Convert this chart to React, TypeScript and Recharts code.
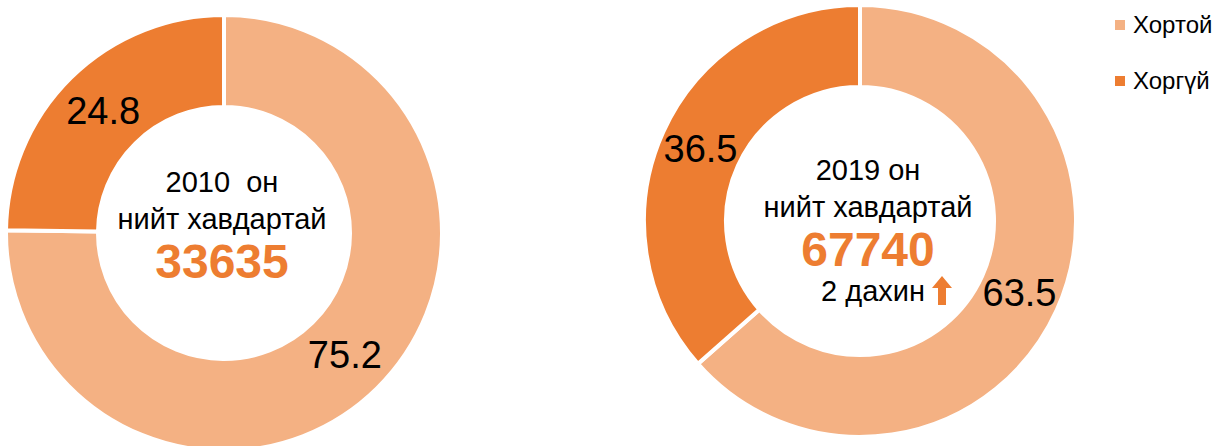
import React from 'react';
import { PieChart, Pie, Cell, Legend } from 'recharts';

const categories = ['Хортой', 'Хоргүй'];
const values2010 = [75.2, 24.8];
const values2019 = [63.5, 36.5];
const yearLabels = ['2010  он', '2019 он'];
const subtitle = 'нийт хавдартай';
const totals = [33635, 67740];
const growthText = '2 дахин';

const colors = ['#F4B183', '#ED7D31'];
const accent = '#ED7D31';
const font = '"Liberation Sans", Arial, sans-serif';

const data2010 = categories.map((name, i) => ({ name, value: values2010[i] }));
const data2019 = categories.map((name, i) => ({ name, value: values2019[i] }));

const RAD = Math.PI / 180;

const centerText = (idx: number, cx: number, cy: number, growth: boolean) => (
  <g fontFamily={font}>
    <text x={cx} y={cy - 41} textAnchor="middle" fontSize={29} fill="#000" style={{ whiteSpace: 'pre' }}>
      {yearLabels[idx]}
    </text>
    <text x={cx} y={cy - 4} textAnchor="middle" fontSize={29} fill="#000">{subtitle}</text>
    <text x={cx} y={cy + 45} textAnchor="middle" fontSize={48} fontWeight="bold" fill={accent}>{totals[idx]}</text>
    {growth && (
      <g>
        <text x={cx + 57} y={cy + 80} textAnchor="end" fontSize={29} fill="#000">{growthText}</text>
        <path
          d={`M ${cx + 74} ${cy + 55} l 10 12 l -6 0 l 0 17 l -8 0 l 0 -17 l -6 0 Z`}
          fill={accent}
        />
      </g>
    )}
  </g>
);

// value label in the middle of the ring along the slice's mid angle;
// the first slice also carries the donut's centre text
const makeLabel = (idx: number, dx: number, growth: boolean) => (p: any) => {
  const r = (p.innerRadius + p.outerRadius) / 2;
  const x = p.cx + r * Math.cos(-p.midAngle * RAD);
  const y = p.cy + r * Math.sin(-p.midAngle * RAD);
  return (
    <g key={`lbl-${idx}-${p.index}`}>
      <text x={x} y={y} textAnchor="middle" dominantBaseline="central" fontSize={38} fontFamily={font} fill="#000">
        {Number(p.value).toFixed(1)}
      </text>
      {p.index === 0 && centerText(idx, p.cx + dx, p.cy, growth)}
    </g>
  );
};

const renderLegend = () => (
  <div style={{ fontFamily: font, fontSize: 24, color: '#000' }}>
    {categories.map((c, i) => (
      <div key={c} style={{ display: 'flex', alignItems: 'center', height: 28, marginBottom: 28 }}>
        <div style={{ width: 10, height: 10, background: colors[i], marginRight: 8 }} />
        <span>{c}</span>
      </div>
    ))}
  </div>
);

export default function App() {
  return (
    <div style={{ position: 'absolute', left: 0, top: 0, width: 1223, height: 446, background: '#fff' }}>
      <PieChart width={1223} height={446} margin={{ top: 0, right: 0, bottom: 0, left: 0 }}>
        <Pie
          data={data2010}
          dataKey="value"
          nameKey="name"
          cx={224}
          cy={233}
          innerRadius={126}
          outerRadius={218}
          startAngle={90}
          endAngle={-270}
          stroke="#fff"
          strokeWidth={4}
          label={makeLabel(0, -2, false)}
          labelLine={false}
          isAnimationActive={false}
        >
          {data2010.map((d, i) => (
            <Cell key={d.name} fill={colors[i]} />
          ))}
        </Pie>
        <Pie
          data={data2019}
          dataKey="value"
          nameKey="name"
          cx={860}
          cy={221}
          innerRadius={134}
          outerRadius={216}
          startAngle={90}
          endAngle={-270}
          stroke="#fff"
          strokeWidth={4}
          label={makeLabel(1, 8, true)}
          labelLine={false}
          isAnimationActive={false}
        >
          {data2019.map((d, i) => (
            <Cell key={d.name} fill={colors[i]} />
          ))}
        </Pie>
        <Legend content={renderLegend} wrapperStyle={{ left: 1115, top: 11, width: 110, bottom: 'auto' }} />
      </PieChart>
    </div>
  );
}
